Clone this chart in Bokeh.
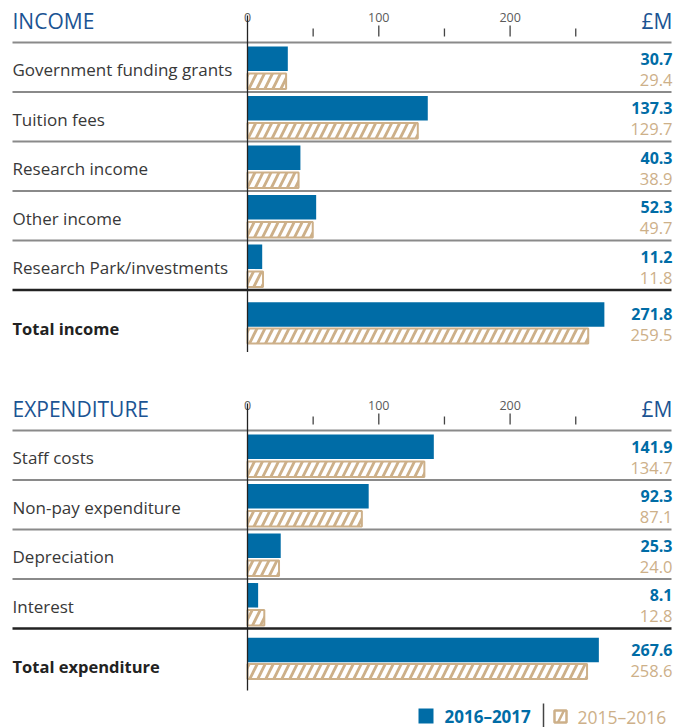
from bokeh.plotting import figure
from bokeh.models import Range1d
from bokeh.core.properties import value
from bokeh.embed import file_html
from bokeh.resources import INLINE

# ---------------- data ----------------
income_categories = ["Government funding grants", "Tuition fees", "Research income",
                     "Other income", "Research Park/investments"]
income_2016_2017 = [30.7, 137.3, 40.3, 52.3, 11.2]
income_2015_2016 = [29.4, 129.7, 38.9, 49.7, 11.8]
income_total_label = "Total income"
income_total_2016_2017 = 271.8
income_total_2015_2016 = 259.5

expenditure_categories = ["Staff costs", "Non-pay expenditure", "Depreciation", "Interest"]
expenditure_2016_2017 = [141.9, 92.3, 25.3, 8.1]
expenditure_2015_2016 = [134.7, 87.1, 24.0, 12.8]
expenditure_total_label = "Total expenditure"
expenditure_total_2016_2017 = 267.6
expenditure_total_2015_2016 = 258.6

major_ticks = [0, 100, 200]
minor_ticks = [50, 150, 250]
series_names = ["2016\u20132017", "2015\u20132016"]
unit_label = "\u00a3M"

# ---------------- style ----------------
W, H = 688, 727
X0 = 247.0          # pixel of zero
SCALE = 1.313       # px per unit
BLUE = "#006ca6"
TAN = "#cdb089"
NAVY = "#1b5493"
TXT = "#383838"
GRID = "#8a8a8a"
DARK = "#222222"
FONT = value("Open Sans")
LEFT_PX, RIGHT_PX = 12, 671
RH = 49.5


def dx(px):
    return (px - X0) / SCALE


p = figure(width=W, height=H, x_range=Range1d(dx(0), dx(W)), y_range=Range1d(H, 0),
           output_backend="svg", toolbar_location=None, min_border=0,
           x_axis_type=None, y_axis_type=None, outline_line_color=None,
           background_fill_color="white", border_fill_color="white")

HATCH = dict(fill_color="white", line_color=TAN, line_width=2,
             hatch_pattern="/", hatch_color=TAN, hatch_weight=2.8, hatch_scale=16)


def panel(title, cats, v1, v2, tot_label, t1, t2, top, tot_off):
    n = len(cats)
    # title and unit
    p.text(x=[dx(LEFT_PX)], y=[top - 22], text=[title], text_font=FONT, text_font_size="21px",
           text_color=NAVY, text_align="left", text_baseline="middle")
    p.text(x=[dx(RIGHT_PX + 1)], y=[top - 22], text=[unit_label], text_font=FONT,
           text_font_size="21px", text_color=NAVY, text_align="right", text_baseline="middle")
    # ticks
    p.text(x=major_ticks, y=[top - 25] * len(major_ticks), text=[str(t) for t in major_ticks],
           text_font=FONT, text_font_size="12.5px", text_color="#5a5a5a",
           text_align="center", text_baseline="middle")
    p.segment(x0=major_ticks[1:], x1=major_ticks[1:], y0=[top - 17] * (len(major_ticks) - 1),
              y1=[top - 6] * (len(major_ticks) - 1), line_color="#444444", line_width=1.3)
    p.segment(x0=minor_ticks, x1=minor_ticks, y0=[top - 14] * len(minor_ticks),
              y1=[top - 6] * len(minor_ticks), line_color="#444444", line_width=1.3)
    # separators
    seps = [top + i * RH for i in range(n)]
    p.segment(x0=[dx(LEFT_PX)] * n, x1=[dx(RIGHT_PX)] * n, y0=seps, y1=seps,
              line_color=GRID, line_width=2)
    ty = top + n * RH
    p.segment(x0=[dx(LEFT_PX)], x1=[dx(RIGHT_PX)], y0=[ty], y1=[ty],
              line_color=DARK, line_width=2.5)
    # rows
    rts = [top + i * RH for i in range(n)]
    p.hbar(y=[r + 16.3 for r in rts], height=24.5, left=0, right=v1,
           fill_color=BLUE, line_color=None)
    p.hbar(y=[r + 38.8 for r in rts], height=15.5, left=0, right=v2, **HATCH)
    p.text(x=[dx(LEFT_PX)] * n, y=[r + 27 for r in rts], text=cats, text_font=FONT,
           text_font_size="17px", text_color=TXT, text_align="left", text_baseline="middle")
    p.text(x=[dx(RIGHT_PX + 1)] * n, y=[r + 16 for r in rts], text=[f"{v:.1f}" for v in v1],
           text_font=FONT, text_font_size="16px", text_font_style="bold", text_color=BLUE,
           text_align="right", text_baseline="middle")
    p.text(x=[dx(RIGHT_PX + 1)] * n, y=[r + 37 for r in rts], text=[f"{v:.1f}" for v in v2],
           text_font=FONT, text_font_size="16.5px", text_color=TAN,
           text_align="right", text_baseline="middle")
    # total row
    p.hbar(y=[ty + tot_off + 24.5], height=24.5, left=0, right=[t1],
           fill_color=BLUE, line_color=None)
    p.hbar(y=[ty + tot_off + 46], height=15, left=0, right=[t2], **HATCH)
    p.text(x=[dx(LEFT_PX)], y=[ty + 38], text=[tot_label], text_font=FONT,
           text_font_size="16.5px", text_font_style="bold", text_color=DARK,
           text_align="left", text_baseline="middle")
    p.text(x=[dx(RIGHT_PX + 1)], y=[ty + tot_off + 24], text=[f"{t1:.1f}"], text_font=FONT,
           text_font_size="16px", text_font_style="bold", text_color=BLUE,
           text_align="right", text_baseline="middle")
    p.text(x=[dx(RIGHT_PX + 1)], y=[ty + tot_off + 45], text=[f"{t2:.1f}"], text_font=FONT,
           text_font_size="16.5px", text_color=TAN, text_align="right", text_baseline="middle")
    # zero line
    p.segment(x0=[0], x1=[0], y0=[top - 27], y1=[ty + 62], line_color=DARK, line_width=1.3)


panel("INCOME", income_categories, income_2016_2017, income_2015_2016,
      income_total_label, income_total_2016_2017, income_total_2015_2016, 42, 0)
panel("EXPENDITURE", expenditure_categories, expenditure_2016_2017, expenditure_2015_2016,
      expenditure_total_label, expenditure_total_2016_2017, expenditure_total_2015_2016, 430, -3)

# legend
p.quad(left=[dx(418)], right=[dx(433)], top=[708], bottom=[723], fill_color=BLUE, line_color=None)
p.text(x=[dx(444)], y=[716], text=[series_names[0]], text_font=FONT, text_font_size="17px",
       text_font_style="bold", text_color=BLUE, text_align="left", text_baseline="middle")
p.segment(x0=[dx(543)], x1=[dx(543)], y0=[703], y1=[727], line_color="#444444", line_width=1.5)
p.quad(left=[dx(554)], right=[dx(566)], top=[710], bottom=[722], fill_color="white",
       line_color=TAN, line_width=2.5, hatch_pattern="/", hatch_color=TAN,
       hatch_weight=2.5, hatch_scale=24)
p.text(x=[dx(577)], y=[716], text=[series_names[1]], text_font=FONT, text_font_size="17.5px",
       text_color=TAN, text_align="left", text_baseline="middle")

open("out.html", "w").write(file_html(p, INLINE))
